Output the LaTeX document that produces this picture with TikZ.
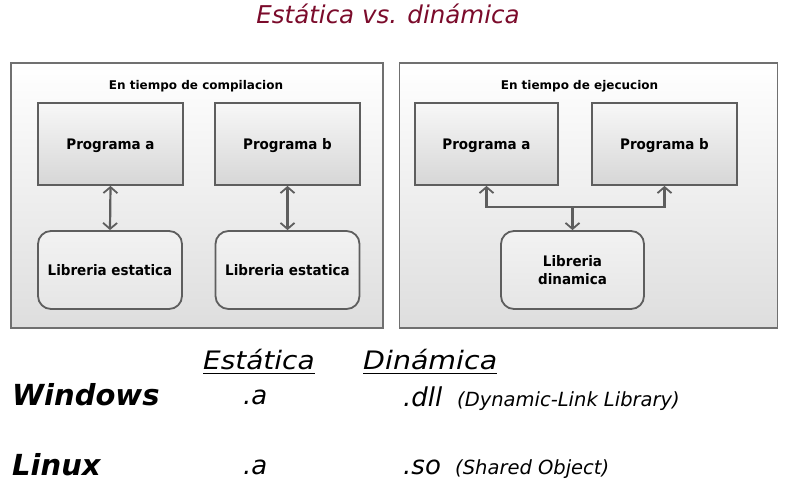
\documentclass[tikz,border=0pt]{standalone}
\usepackage{fontspec}
\setmainfont{DejaVu Sans}
\usetikzlibrary{arrows.meta}
\definecolor{titlered}{HTML}{7B0B2B}
\definecolor{edgegray}{HTML}{5E5E5E}
\definecolor{panelgray}{HTML}{707070}
\newcommand{\narrowtxt}[1]{\scalebox{0.93}[1]{#1}}
\tikzset{
  panel/.style={draw=panelgray, line width=1.3pt, top color=white, bottom color=black!13, inner sep=0pt},
  prog/.style={draw=edgegray, line width=1.8pt, top color=white!97!black, bottom color=black!16,
    minimum width=145pt, minimum height=82pt, inner sep=0pt, text height=10.5pt, text depth=0pt,
    font=\fontsize{14.5}{18}\selectfont\bfseries},
  lib/.style={draw=edgegray, line width=1.8pt, rounded corners=13pt, top color=black!5, bottom color=black!10,
    minimum width=144pt, minimum height=78pt, inner sep=0pt, align=center,
    font=\fontsize{14.5}{17.5}\selectfont\bfseries},
  ptitle/.style={anchor=base, inner sep=0pt, font=\fontsize{12}{14}\selectfont\bfseries},
  barb/.tip={Straight Barb[length=6pt,width=14pt,line width=1.8pt]},
  conn/.style={draw=edgegray, line width=2.2pt},
  big/.style={anchor=base west, inner sep=0pt, font=\fontsize{25.4}{28}\selectfont\itshape},
  ext/.style={anchor=base west, inner sep=0pt, font=\fontsize{26}{30}\selectfont\itshape},
  os/.style={anchor=base west, inner sep=0pt, font=\fontsize{29}{32}\selectfont\bfseries\itshape},
  note/.style={anchor=base west, inner sep=0pt, font=\fontsize{19.5}{22}\selectfont\itshape}
}
\begin{document}
\begin{tikzpicture}[x=1pt,y=-1pt]
\useasboundingbox (0,0) rectangle (789,496);
\fill[white] (0,0) rectangle (789,496);

% title
\node[anchor=base, inner sep=0pt, text=titlered, font=\fontsize{24.5}{28}\selectfont\itshape] (title) at (388,23) {Estática vs. dinámica};

% panels
\node[panel, minimum width=372pt, minimum height=265pt] (lp) at (197,195.5) {};
\node[panel, minimum width=378pt, minimum height=265pt] (rp) at (588.5,195.5) {};
\node[ptitle] (lpt) at (196,89) {En tiempo de compilacion};
\node[ptitle] (rpt) at (579.5,89) {En tiempo de ejecucion};

% left panel
\node[prog] (la) at (110.5,144) {\narrowtxt{Programa a}};
\node[prog] (lb) at (287.5,144) {\narrowtxt{Programa b}};
\node[lib] (lsa) at (110,270) {\narrowtxt{Libreria estatica}};
\node[lib] (lsb) at (287.5,270) {\narrowtxt{Libreria estatica}};
\draw[conn, barb-barb] (la.south) -- (lsa.north);
\draw[conn, barb-barb] (lb.south) -- (lsb.north);

% right panel
\node[prog, minimum width=143pt] (ra) at (486.5,144) {\narrowtxt{Programa a}};
\node[prog] (rb) at (664.5,144) {\narrowtxt{Programa b}};
\node[lib, minimum width=143pt] (rd) at (572.5,270) {\narrowtxt{Libreria}\\\narrowtxt{dinamica}};
\coordinate (j) at (572.5,207);
\draw[conn, barb-barb] (ra.south) |- (j) -| (rb.south);
\draw[conn, -barb] (j) -- (rd.north);

% table
\node[big] (est) at (203,369.5) {\scalebox{1.1}[1]{Estática}};
\node[big] (din) at (363,369.5) {\scalebox{1.12}[1]{Dinámica}};
\draw[line width=1.5pt] ([yshift=-4pt]est.base west) -- ([yshift=-4pt]est.base east);
\draw[line width=1.5pt] ([yshift=-4pt]din.base west) -- ([yshift=-4pt]din.base east);

\node[os] (win) at (12,405) {Windows};
\node[ext] (wa) at (243,404) {.a};
\node[ext] (wdll) at (403,406) {.dll};
\node[note] (wnote) at (457,406) {(Dynamic-Link Library)};

\node[os] (lin) at (12,475) {Linux};
\node[ext] (la2) at (243,474) {.a};
\node[ext] (lso) at (403,474) {.so};
\node[note] (lnote) at (455,474) {(Shared Object)};
\end{tikzpicture}
\end{document}
